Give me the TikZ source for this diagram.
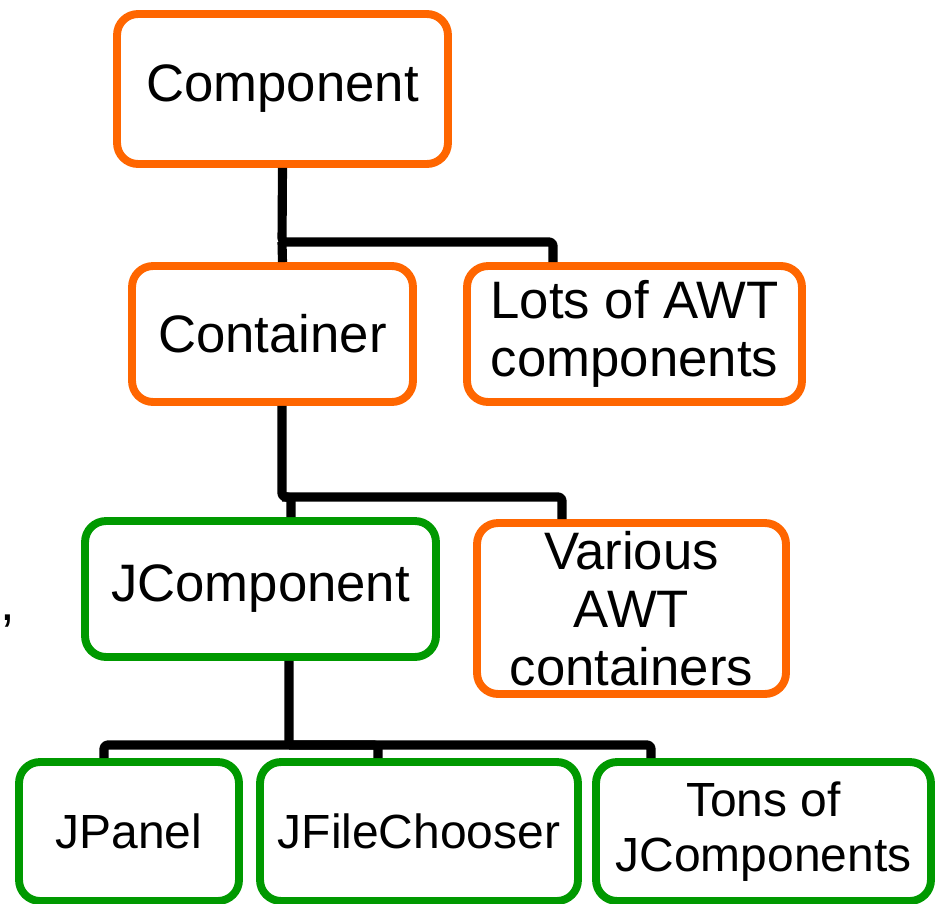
\documentclass[tikz,border=0pt]{standalone}
\usepackage{fontspec}
\setmainfont{Liberation Sans}
\definecolor{awtorange}{HTML}{FF6600}
\definecolor{swinggreen}{HTML}{009900}
\begin{document}
\begin{tikzpicture}[x=0.02cm,y=-0.02cm,
    font=\fontsize{30}{33}\selectfont]
      \useasboundingbox (0,0) rectangle (936,903);
      \begin{scope}[every node/.style={rectangle,rounded corners=0.42cm,line width=4.5pt,draw=awtorange,align=center,inner sep=0pt}]
        \node[minimum width=6.62cm,minimum height=3.0cm] (comp) at (282.5,89) {Component};
        \node[minimum width=5.62cm,minimum height=2.72cm] (cont) at (272.5,334) {Container};
        \node[minimum width=6.70cm,minimum height=2.72cm] (lots) at (634.5,334) {Lots of AWT\\components};
        \node[minimum width=6.18cm,minimum height=3.42cm] (var) at (631.5,608.5) {Various\\AWT\\containers};
      \end{scope}
      \begin{scope}[every node/.style={rectangle,rounded corners=0.42cm,line width=4.5pt,draw=swinggreen,align=center,inner sep=0pt}]
        \node[minimum width=7.02cm,minimum height=2.72cm] (jcomp) at (260.5,589) {JComponent};
      \end{scope}
      \begin{scope}[every node/.style={rectangle,rounded corners=0.42cm,line width=4.5pt,draw=swinggreen,align=center,inner sep=0pt,
          font=\fontsize{27.3}{31.5}\selectfont}]
        \node[minimum width=4.40cm,minimum height=2.78cm] (panel) at (129,831.5) {JPanel};
        \node[minimum width=6.36cm,minimum height=2.78cm] (chooser) at (419,831.5) {JFileChooser};
        \node[minimum width=6.70cm,minimum height=2.78cm] (tons) at (763.5,831.5) {Tons of\\JComponents};
      \end{scope}
      \node[anchor=base west,inner sep=0pt] (comma) at (0,620) {,};
      \coordinate (bus1) at (282,242);
      \coordinate (bus2) at (282,497);
      \coordinate (bus3) at (289,745);
      \begin{scope}[every path/.style={draw=black,line width=5.2pt,line join=round,rounded corners=2pt}]
        \path (comp.south) -- (bus1) -| ([xshift=-1.63cm]lots.north);
        \path (bus1) -- (comp.south |- cont.north);
        \path (cont.south -| bus2) -- (bus2) -| ([xshift=-1.39cm]var.north);
        \path (bus2) -| ([xshift=0.61cm]jcomp.north);
        \path ([xshift=0.57cm]jcomp.south) -- (bus3);
        \path ([xshift=-0.5cm]panel.north) |- (bus3) -| ([xshift=-2.25cm]tons.north);
        \path ([xshift=-0.82cm]chooser.north) |- (bus3);
      \end{scope}
    \end{tikzpicture}
\end{document}
